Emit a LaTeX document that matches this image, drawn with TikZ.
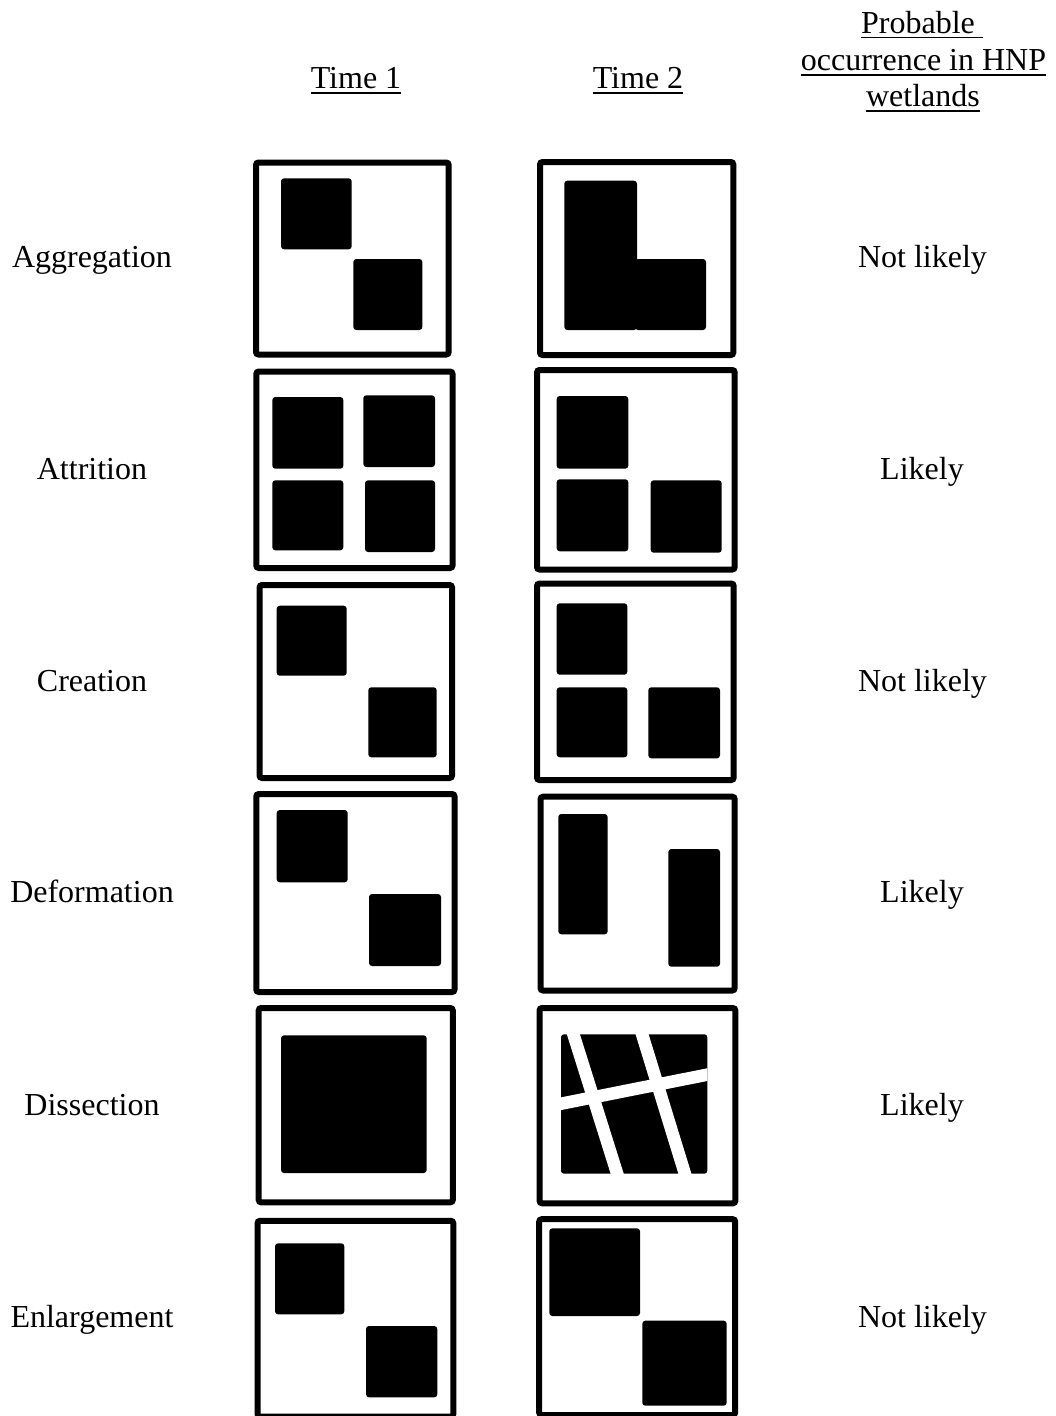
\documentclass[tikz,border=0pt]{standalone}
\usepackage{fontspec}
\setmainfont{Liberation Serif}
\newcommand\myul[1]{\setbox0=\hbox{#1}\rlap{\rule[-5.5pt]{\wd0}{1.6pt}}\box0}
\begin{document}
\begin{tikzpicture}[x=1pt,y=-1pt,
  frame/.style={draw=black, line width=6pt, rounded corners=2.5pt},
  blk/.style={fill=black, rounded corners=3pt},
  cut/.style={draw=white, line width=12.5pt},
  lab/.style={anchor=base, inner sep=0pt, font=\fontsize{32}{36.5}\selectfont},
  hdr/.style={anchor=base, inner sep=0pt, font=\fontsize{32}{36.5}\selectfont}]
\useasboundingbox (0,0) rectangle (1055,1416);
\clip (0,0) rectangle (1055,1416);
\fill[white] (0,0) rectangle (1055,1416);

% headers
\node[hdr] (h1) at (356,88) {\myul{Time 1}};
\node[hdr] (h2) at (638,88) {\myul{Time 2}};
\node[hdr] (h3a) at (922,33) {\myul{Probable\ }};
\node[hdr] (h3b) at (923.5,70) {\myul{occurrence in HNP}};
\node[hdr] (h3c) at (923,106) {\myul{wetlands}};

% row labels
\node[lab] (l1) at (92,267) {Aggregation};
\node[lab] (l2) at (92,479) {Attrition};
\node[lab] (l3) at (92,691) {Creation};
\node[lab] (l4) at (92,902) {Deformation};
\node[lab] (l5) at (92,1115) {Dissection};
\node[lab] (l6) at (92,1327) {Enlargement};

\node[lab] (p1) at (922.5,267) {Not likely};
\node[lab] (p2) at (922,479) {Likely};
\node[lab] (p3) at (922.5,691) {Not likely};
\node[lab] (p4) at (922,902) {Likely};
\node[lab] (p5) at (922,1115) {Likely};
\node[lab] (p6) at (922.5,1327) {Not likely};

% Row 1: Aggregation
\draw[frame] (256,162.5) rectangle (448.7,354.5);
\fill[blk] (281,178.3) rectangle (351.7,249.3);
\fill[blk] (353.3,259) rectangle (422.3,330);
\draw[frame] (540,162) rectangle (733.3,355);
\fill[blk] (564.3,180.7) rectangle (637,330);
\fill[blk] (635,259) rectangle (706,330);

% Row 2: Attrition
\draw[frame] (256.3,371.5) rectangle (452.5,568);
\fill[blk] (272.3,397) rectangle (343.3,468.7);
\fill[blk] (363.3,395.3) rectangle (435,467);
\fill[blk] (272.3,480.3) rectangle (343.3,550.3);
\fill[blk] (365,480.3) rectangle (435,552);
\draw[frame] (537,370) rectangle (734.7,569.5);
\fill[blk] (556.7,396) rectangle (628.3,468.7);
\fill[blk] (556.7,479.3) rectangle (628.3,551.3);
\fill[blk] (650.7,480.3) rectangle (721.7,552.7);

% Row 3: Creation
\draw[frame] (259.5,585) rectangle (452,778);
\fill[blk] (276.7,605.7) rectangle (346.7,675.7);
\fill[blk] (368.3,687.3) rectangle (436.7,757.3);
\draw[frame] (537,583.5) rectangle (733.7,780);
\fill[blk] (556.7,603.3) rectangle (627.3,674.7);
\fill[blk] (556.7,687.3) rectangle (627.3,757.3);
\fill[blk] (648.3,687.3) rectangle (720,758.3);

% Row 4: Deformation
\draw[frame] (256.3,794) rectangle (454.5,992);
\fill[blk] (276.7,810) rectangle (347.7,882.3);
\fill[blk] (369,894) rectangle (441,966);
\draw[frame] (540.5,796.7) rectangle (734.7,990.5);
\fill[blk] (558.3,814) rectangle (607.7,934.3);
\fill[blk] (668.3,849) rectangle (720,966.7);

% Row 5: Dissection
\draw[frame] (258.7,1008) rectangle (452.8,1202.3);
\fill[blk] (281,1035.3) rectangle (426.7,1173);
\draw[frame] (539.5,1008) rectangle (735.3,1203.3);
\fill[blk] (561,1034.3) rectangle (707.3,1173.7);
\begin{scope}
  \clip (561,1034.3) rectangle (707.3,1173.7);
  \draw[cut] (568.9,1020) -- (622.3,1190);
  \draw[cut] (637.7,1020) -- (689.9,1190);
  \draw[cut] (550,1105.9) -- (720,1072.1);
\end{scope}

% Row 6: Enlargement
\draw[frame] (257.5,1220.8) rectangle (453.3,1416.5);
\fill[blk] (275,1243.3) rectangle (344.3,1314.3);
\fill[blk] (366,1326) rectangle (437.3,1397.3);
\draw[frame] (539.2,1219.2) rectangle (735.2,1415);
\fill[blk] (549.3,1228.3) rectangle (640,1316);
\fill[blk] (642.3,1320.7) rectangle (726.7,1405.7);
\end{tikzpicture}
\end{document}
